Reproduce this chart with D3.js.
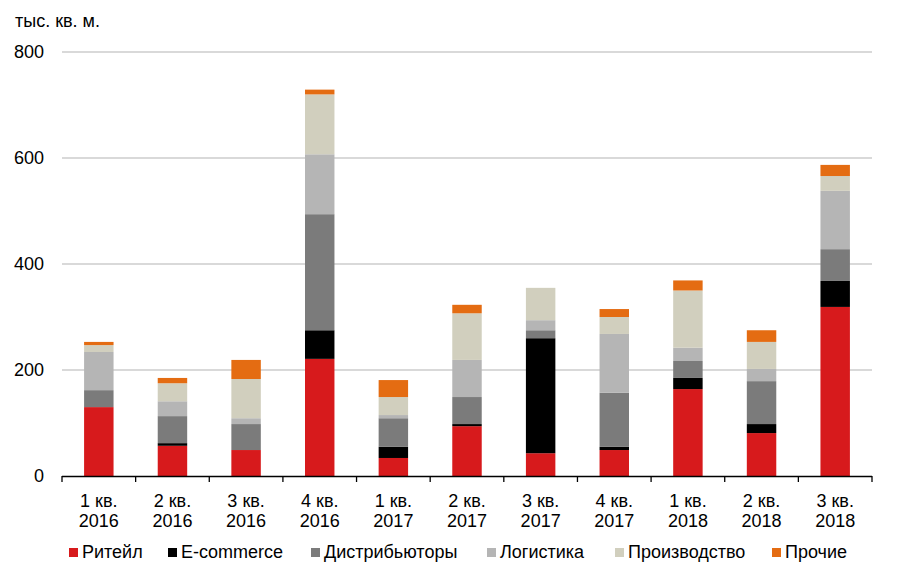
<!DOCTYPE html>
<html><head><meta charset="utf-8">
<script src="https://cdn.jsdelivr.net/npm/d3@7"></script>
<style>body{margin:0;background:#fff}svg{display:block;font-family:Arial,"Liberation Sans",sans-serif}</style>
</head><body><svg id="c" width="908" height="582"></svg>
<script>
const quarters = ["1 кв.|2016","2 кв.|2016","3 кв.|2016","4 кв.|2016","1 кв.|2017","2 кв.|2017","3 кв.|2017","4 кв.|2017","1 кв.|2018","2 кв.|2018","3 кв.|2018"];
const seriesNames = ["Ритейл","E-commerce","Дистрибьюторы","Логистика","Производство","Прочие"];
const retail      = [130, 57, 49, 221, 34, 94, 43, 49, 164, 81, 319];
const ecommerce   = [0, 5, 0, 54, 21, 4, 217, 6, 21, 17, 49];
const distrib     = [32, 51, 49, 219, 54, 51, 15, 102, 32, 81, 60];
const logistics   = [72, 28, 11, 113, 6, 70, 19, 111, 25, 23, 110];
const production  = [13, 34, 74, 113, 34, 88, 61, 32, 108, 51, 28];
const other       = [6, 10, 36, 9, 32, 16, 0, 15, 19, 22, 21];
const yTicks = [0, 200, 400, 600, 800];
const colors = ["#d71a1c", "#000000", "#7b7b7b", "#b5b5b5", "#d1cfbe", "#e46c12"];

const seriesVals = [retail, ecommerce, distrib, logistics, production, other];
const rows = quarters.map((q, i) => {
  const r = {q};
  seriesNames.forEach((s, k) => r[s] = seriesVals[k][i]);
  return r;
});
const stacked = d3.stack().keys(seriesNames)(rows);

const svg = d3.select("#c");
const FS = 18;
const x = d3.scaleBand().domain(quarters).range([62, 872]).paddingInner(0.6).paddingOuter(0.3);
const y = d3.scaleLinear().domain([0, 800]).range([476, 52]);

// gridlines
svg.append("g").selectAll("line").data(yTicks.filter(t => t > 0)).join("line")
  .attr("x1", 62).attr("x2", 872).attr("y1", d => y(d)).attr("y2", d => y(d))
  .attr("stroke", "#d9d9d9").attr("stroke-width", 2);

// y labels
const yAxis = svg.append("g").attr("transform", "translate(62,0)")
  .call(d3.axisLeft(y).tickValues(yTicks).tickSize(0).tickPadding(18));
yAxis.select(".domain").remove();
yAxis.selectAll("text").attr("font-size", FS).attr("fill", "#000").attr("font-family", "Arial, 'Liberation Sans', sans-serif");

// bars
svg.append("g").selectAll("g").data(stacked).join("g")
  .attr("fill", (d, i) => colors[i])
  .selectAll("rect").data(d => d).join("rect")
  .attr("x", d => x(d.data.q))
  .attr("width", x.bandwidth())
  .attr("y", d => y(d[1]))
  .attr("height", d => y(d[0]) - y(d[1]));

// x axis
svg.append("line").attr("x1", 62).attr("x2", 872).attr("y1", 476.5).attr("y2", 476.5).attr("stroke", "#000").attr("stroke-width", 1.3);
const bounds = d3.range(quarters.length + 1).map(i => 62 + i * (810 / quarters.length));
svg.append("g").selectAll("line").data(bounds).join("line")
  .attr("x1", d => d).attr("x2", d => d).attr("y1", 476).attr("y2", 482)
  .attr("stroke", "#000").attr("stroke-width", 1.3);
const xl = svg.append("g").selectAll("text").data(quarters).join("text")
  .attr("text-anchor", "middle").attr("font-size", FS).attr("fill", "#000")
  .attr("transform", d => `translate(${x(d) + x.bandwidth() / 2},0)`);
xl.append("tspan").attr("x", 0).attr("y", 507).text(d => d.split("|")[0]);
xl.append("tspan").attr("x", 0).attr("y", 527).text(d => d.split("|")[1]);

// unit label
svg.append("text").attr("x", 15).attr("y", 26.5).attr("font-size", FS).attr("fill", "#000").text("тыс. кв. м.");

// legend
const legendX = [69, 168, 311, 487, 615, 772];
const lg = svg.append("g").selectAll("g").data(seriesNames).join("g")
  .attr("transform", (d, i) => `translate(${legendX[i]},548)`);
lg.append("rect").attr("x", 0).attr("y", 0).attr("width", 9).attr("height", 9).attr("fill", (d, i) => colors[i]);
lg.append("text").attr("x", 13).attr("y", 10.3).attr("font-size", FS).attr("fill", "#000").text(d => d);
</script></body></html>
